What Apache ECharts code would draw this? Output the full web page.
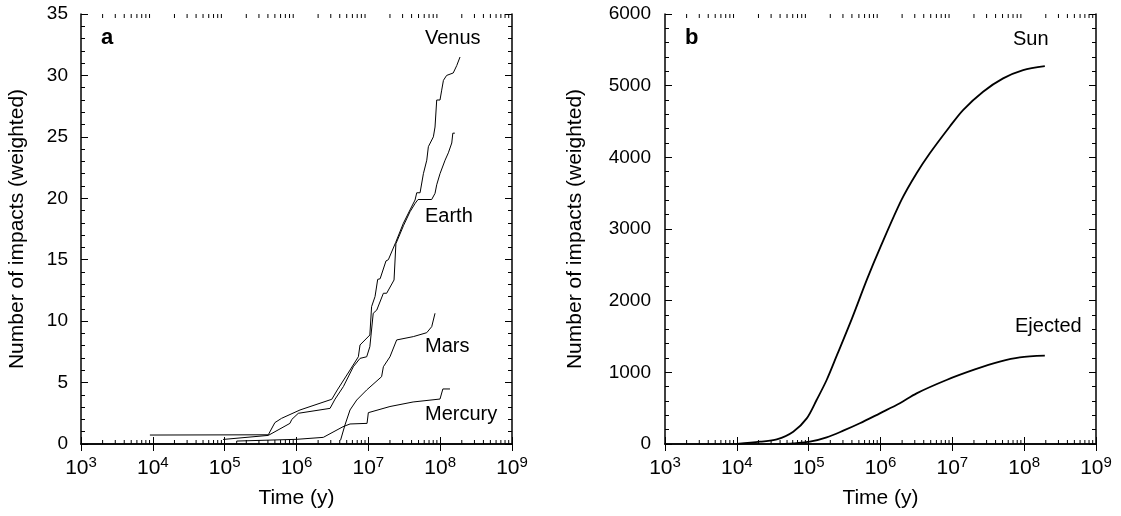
<!DOCTYPE html>
<html>
<head>
<meta charset="utf-8">
<script src="https://cdn.jsdelivr.net/npm/echarts@6/dist/echarts.min.js"></script>
<style>
  html, body { margin: 0; padding: 0; background: #fff; }
  #chart { width: 1121px; height: 516px; }
</style>
</head>
<body>
<div id="chart"></div>
<script>
// Panel a: weighted cumulative impacts on the terrestrial planets, [time (y), count]
const venus = [
  [9.1e3, 0.73], [4.05e5, 0.75], [5.0e5, 1.74], [6.2e5, 2.09], [1.12e6, 2.77], [3.1e6, 3.64],
  [3.7e6, 4.4], [5.56e6, 6.02], [7.26e6, 7.1], [7.66e6, 8.06], [1.05e7, 8.87], [1.11e7, 11.18],
  [1.24e7, 12.0], [1.35e7, 13.4], [1.46e7, 13.45], [1.76e7, 14.9], [1.9e7, 15.0], [2.4e7, 16.4],
  [3.07e7, 17.96], [3.8e7, 19.05], [4.47e7, 19.86], [4.72e7, 20.45], [5.25e7, 20.45], [5.84e7, 22.0],
  [6.51e7, 23.1], [6.85e7, 24.2], [8.04e7, 25.0], [8.48e7, 25.8], [8.95e7, 28.0], [9.95e7, 28.0],
  [1.05e8, 28.8], [1.11e8, 29.6], [1.23e8, 30.0], [1.52e8, 30.2], [1.7e8, 30.8], [1.89e8, 31.5]
];
const earth = [
  [9.5e4, 0.37], [4.05e5, 0.7], [8.1e5, 1.68], [8.6e5, 2.0], [1.06e6, 2.5], [2.93e6, 2.9],
  [3.44e6, 3.65], [4.49e6, 4.67], [6.18e6, 6.29], [7.66e6, 6.97], [9.49e6, 7.1], [1.05e7, 7.92],
  [1.17e7, 10.64], [1.31e7, 10.9], [1.62e7, 12.27], [1.8e7, 12.27], [2.28e7, 13.35], [2.42e7, 16.3],
  [3.1e7, 17.8], [3.8e7, 18.9], [4.5e7, 19.6], [4.92e7, 19.9], [7.62e7, 19.9], [8.48e7, 20.4],
  [8.95e7, 21.1], [9.95e7, 22.0], [1.17e8, 23.1], [1.3e8, 23.7], [1.45e8, 24.5], [1.5e8, 25.3],
  [1.6e8, 25.3]
];
const mars = [
  [4.1e6, 0.3], [4.73e6, 1.55], [5.56e6, 2.77], [6.89e6, 3.58], [9.49e6, 4.4], [1.53e7, 5.48],
  [1.62e7, 6.29], [2.0e7, 7.1], [2.48e7, 8.47], [4.23e7, 8.74], [6.5e7, 9.06], [7.63e7, 9.55],
  [8.48e7, 10.64]
];
const mercury = [
  [1.47e5, 0], [1.47e5, 0.24], [1.0e6, 0.38], [2.36e6, 0.54], [4.45e6, 1.41], [5.56e6, 1.63],
  [9.6e6, 1.68], [1.0e7, 2.55], [2.0e7, 3.05], [4.2e7, 3.42], [9.95e7, 3.66], [1.09e8, 4.48],
  [1.37e8, 4.48]
];

// Panel b: weighted cumulative counts of particles hitting the Sun or ejected
const sun = [
  [1e4, 0], [2.1e4, 32], [3.6e4, 65], [6.1e4, 172], [9.4e4, 358], [1.29e5, 614], [1.78e5, 893],
  [2.5e5, 1250], [4e5, 1750], [6.5e5, 2300], [1e6, 2750], [1.96e6, 3405], [3.18e6, 3777],
  [4.86e6, 4056], [9.23e6, 4430], [1.41e7, 4660], [2.68e7, 4916], [5.09e7, 5102], [9.67e7, 5218],
  [1.94e8, 5274]
];
const ejected = [
  [4e4, 0], [6.1e4, 10], [1.04e5, 32], [1.78e5, 93], [3.03e5, 186], [5.16e5, 289], [9.8e5, 428],
  [1.86e6, 568], [3.18e6, 707], [8.3e6, 893], [2.06e7, 1040], [4.58e7, 1149], [8.69e7, 1209],
  [1.94e8, 1232]
];

// Axis ranges
const timeMin = 1e3, timeMax = 1e9;
const yMaxA = 35, yStepA = 5;
const yMaxB = 6000, yStepB = 1000;

// Minor ticks of the log time axis: 2..9 x 10^n
const minorTimeTicks = [];
for (let e = 3; e < 9; e++) {
  for (let k = 2; k <= 9; k++) minorTimeTicks.push(k * Math.pow(10, e));
}

const FONT = 'Liberation Sans, Arial, Helvetica, sans-serif';
const INK = '#000';

const chart = echarts.init(document.getElementById('chart'), null, { renderer: 'canvas' });

function timeAxis(gridIndex, top) {
  return {
    type: 'log', logBase: 10, gridIndex, min: timeMin, max: timeMax,
    position: top ? 'top' : 'bottom',
    name: top ? '' : 'Time (y)',
    nameLocation: 'middle', nameGap: 44,
    nameTextStyle: { fontFamily: FONT, fontSize: 21, color: INK },
    axisLine: { show: true, lineStyle: { color: INK, width: 1.5 } },
    axisTick: { show: true, inside: true, length: 7, lineStyle: { color: INK, width: 1 } },
    minorTick: { show: false },
    splitLine: { show: false },
    axisLabel: top ? { show: false } : {
      show: true, margin: 11,
      formatter: v => '{b|10}{s|' + Math.round(Math.log10(v)) + '}',
      rich: {
        b: { fontFamily: FONT, fontSize: 21, color: INK, lineHeight: 27 },
        s: { fontFamily: FONT, fontSize: 15, color: INK, verticalAlign: 'top', lineHeight: 16 }
      }
    }
  };
}

function countAxis(gridIndex, right, max, step, nameGap, margin) {
  return {
    type: 'value', gridIndex, min: 0, max, interval: step,
    position: right ? 'right' : 'left',
    name: right ? '' : 'Number of impacts (weighted)',
    nameLocation: 'middle', nameGap,
    nameTextStyle: { fontFamily: FONT, fontSize: 21, color: INK },
    axisLine: { show: true, lineStyle: { color: INK, width: 1.5 } },
    axisTick: { show: true, inside: true, length: 7, lineStyle: { color: INK, width: 1 } },
    minorTick: { show: true, splitNumber: 5, length: 4, lineStyle: { color: INK, width: 1 } },
    splitLine: { show: false },
    minorSplitLine: { show: false },
    axisLabel: right ? { show: false } : {
      show: true, margin, fontFamily: FONT, fontSize: 19, color: INK,
      formatter: v => String(v)
    }
  };
}

function minorTickSeries(axisIndex, yMax) {
  return {
    type: 'custom', xAxisIndex: axisIndex, yAxisIndex: axisIndex,
    silent: true, clip: false, z: 5,
    data: minorTimeTicks.map(v => [v, 0]),
    encode: { x: 0, y: 1 },
    renderItem(params, api) {
      const v = api.value(0);
      const b = api.coord([v, 0]);
      const t = api.coord([v, yMax]);
      const st = { stroke: INK, lineWidth: 1 };
      return {
        type: 'group',
        children: [
          { type: 'line', shape: { x1: b[0], y1: b[1], x2: b[0], y2: b[1] - 4 }, style: st },
          { type: 'line', shape: { x1: t[0], y1: t[1], x2: t[0], y2: t[1] + 4 }, style: st }
        ]
      };
    }
  };
}

function curve(data, axisIndex, width, smooth) {
  return {
    type: 'line', data, xAxisIndex: axisIndex, yAxisIndex: axisIndex,
    showSymbol: false, symbol: 'none', smooth: smooth, silent: true,
    lineStyle: { color: INK, width }, animation: false
  };
}

function label(text, x, y, bold) {
  return {
    type: 'text', left: x, top: y, silent: true,
    style: {
      text, fill: INK,
      font: (bold ? 'bold 22px ' : '20px ') + FONT
    }
  };
}

chart.setOption({
  animation: false,
  backgroundColor: '#fff',
  grid: [
    { left: 81, top: 14, width: 431, height: 430, containLabel: false },
    { left: 665, top: 14, width: 431, height: 430, containLabel: false }
  ],
  xAxis: [timeAxis(0, false), timeAxis(0, true), timeAxis(1, false), timeAxis(1, true)],
  yAxis: [
    countAxis(0, false, yMaxA, yStepA, 53, 13),
    countAxis(0, true, yMaxA, yStepA, 0, 0),
    countAxis(1, false, yMaxB, yStepB, 79, 14),
    countAxis(1, true, yMaxB, yStepB, 0, 0)
  ],
  series: [
    curve(venus, 0, 1, false),
    curve(earth, 0, 1, false),
    curve(mars, 0, 1, false),
    curve(mercury, 0, 1, false),
    curve(sun, 2, 1.8, 0.3),
    curve(ejected, 2, 1.8, 0.3),
    minorTickSeries(0, yMaxA),
    minorTickSeries(2, yMaxB)
  ],
  graphic: [
    label('a', 101, 27, true),
    label('Venus', 425, 28),
    label('Earth', 425, 206),
    label('Mars', 425, 336),
    label('Mercury', 425, 404),
    label('b', 685, 27, true),
    label('Sun', 1013, 29),
    label('Ejected', 1015, 316)
  ]
});
</script>
</body>
</html>
